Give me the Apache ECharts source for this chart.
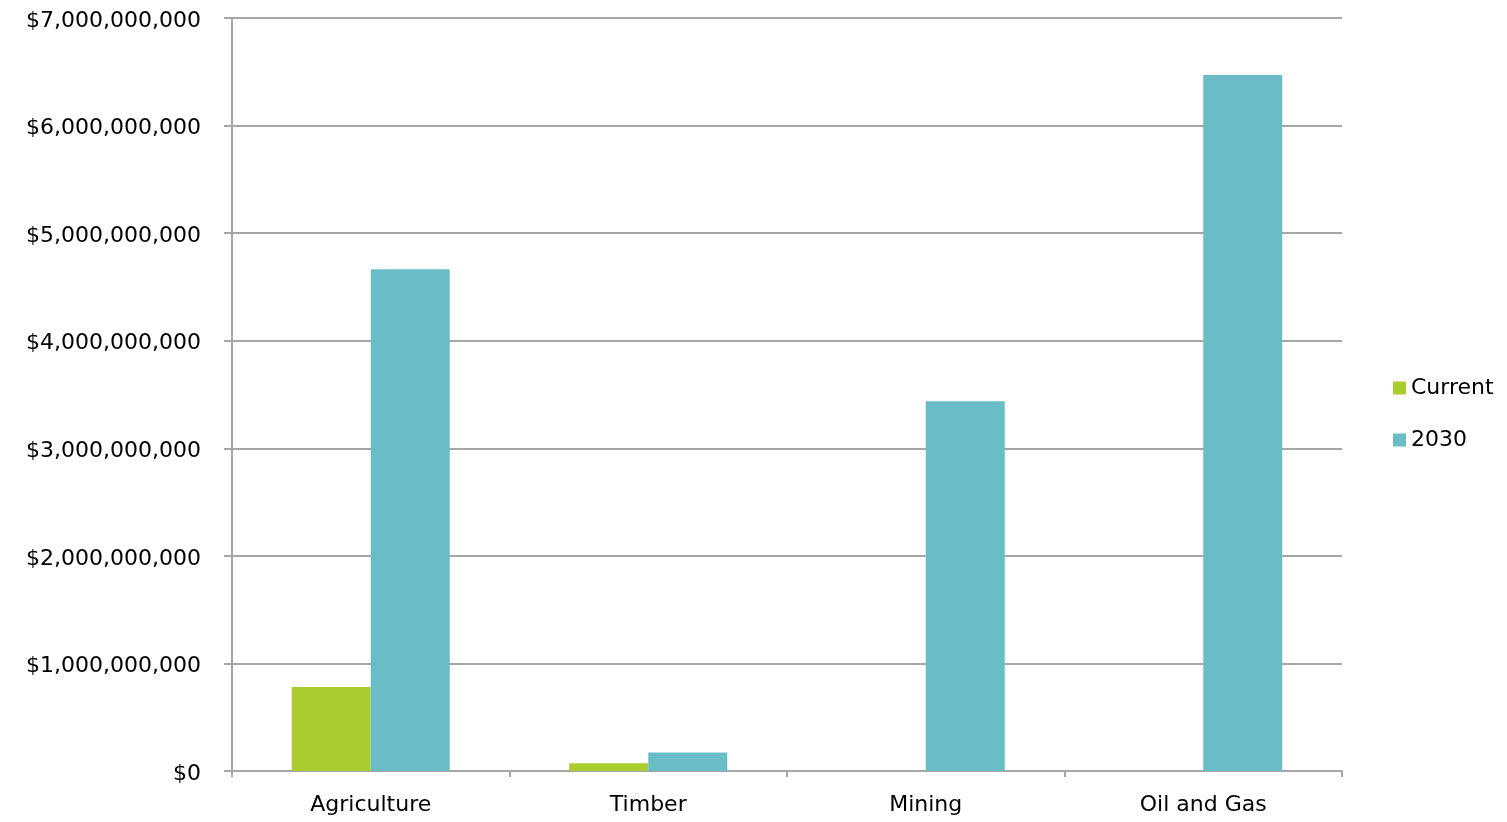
<!DOCTYPE html>
<html>
<head>
<meta charset="utf-8">
<script src="https://cdn.jsdelivr.net/npm/echarts@6/dist/echarts.min.js"></script>
<style>
  html, body { margin: 0; padding: 0; background: #ffffff; }
  #chart { width: 1507px; height: 822px; }
</style>
</head>
<body>
<div id="chart"></div>
<script>
// Sector values in US dollars
const categories = ['Agriculture', 'Timber', 'Mining', 'Oil and Gas'];
const currentValues = [780000000, 73000000, 0, 0];
const values2030 = [4665000000, 172000000, 3437000000, 6470000000];
const seriesNames = ['Current', '2030'];

const FONT = '"DejaVu Sans", Verdana, sans-serif';
const FONT_SIZE = 22;
const GRID_GRAY = '#a6a6a6';

function dollars(v) {
  return '{v|$' + Math.round(v).toString().replace(/\B(?=(\d{3})+(?!\d))/g, ',') + '}';
}

const chart = echarts.init(document.getElementById('chart'), null, { renderer: 'canvas' });

chart.setOption({
  animation: false,
  backgroundColor: '#ffffff',
  grid: { left: 232, right: 165, top: 18, bottom: 51, containLabel: false },
  legend: {
    orient: 'vertical',
    left: 1388,
    top: 372,
    icon: 'rect',
    itemWidth: 13,
    itemHeight: 13,
    itemGap: 30,
    data: seriesNames,
    textStyle: { fontFamily: FONT, fontSize: FONT_SIZE, color: '#000000' }
  },
  xAxis: {
    type: 'category',
    data: categories,
    boundaryGap: true,
    axisLine: { show: true, lineStyle: { color: GRID_GRAY, width: 2 } },
    axisTick: { show: true, length: 6, alignWithLabel: false, lineStyle: { color: GRID_GRAY, width: 2 } },
    axisLabel: { fontFamily: FONT, fontSize: FONT_SIZE, color: '#000000', margin: 23 },
    splitLine: { show: false }
  },
  yAxis: {
    type: 'value',
    min: 0,
    max: 7000000000,
    interval: 1000000000,
    axisLine: { show: true, lineStyle: { color: GRID_GRAY, width: 2 } },
    axisTick: { show: true, length: 8, lineStyle: { color: GRID_GRAY, width: 2 } },
    axisLabel: {
      fontFamily: FONT, fontSize: FONT_SIZE, color: '#000000', margin: 31,
      formatter: dollars,
      rich: {
        v: { fontFamily: FONT, fontSize: FONT_SIZE, color: '#000000', padding: [6, 0, 0, 0] }
      }
    },
    splitLine: { show: true, lineStyle: { color: GRID_GRAY, width: 2 } }
  },
  series: [
    {
      name: seriesNames[0],
      type: 'bar',
      data: currentValues,
      barWidth: 79,
      barGap: '0%',
      itemStyle: { color: '#a9cd2e' }
    },
    {
      name: seriesNames[1],
      type: 'bar',
      data: values2030,
      barWidth: 79,
      barGap: '0%',
      itemStyle: { color: '#6abdc6' }
    }
  ]
});
</script>
</body>
</html>
